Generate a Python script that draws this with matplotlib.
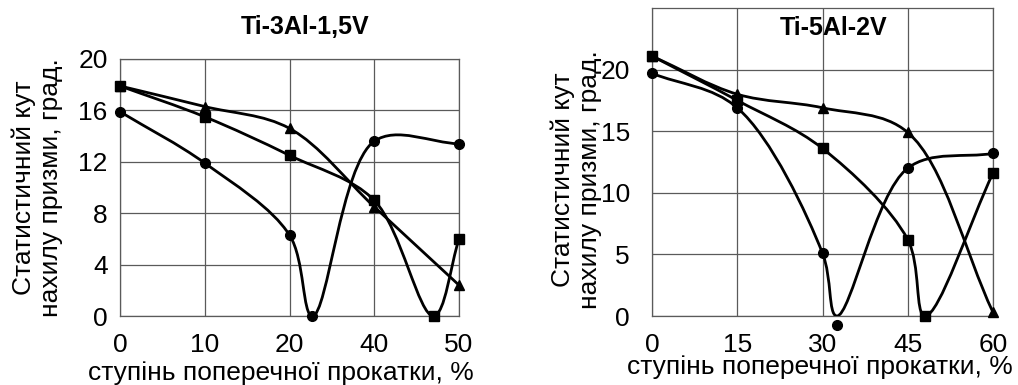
import matplotlib
matplotlib.use("Agg")
import matplotlib.pyplot as plt
import numpy as np
from matplotlib.path import Path
from matplotlib.patches import PathPatch

plt.rcParams["font.family"] = ["Liberation Sans", "DejaVu Sans"]

# Ti-3Al-1,5V: category axis, positions 0..4 -> labels 0,10,20,40,50
left_ticks = [0, 1, 2, 3, 4]
left_ticklabels = ["0", "10", "20", "40", "50"]
left_circle_x = [0, 1, 2, 2.27, 3, 4]
left_circle_y = [15.9, 11.9, 6.3, 0.0, 13.6, 13.4]
left_square_x = [0, 1, 2, 3, 3.7, 4]
left_square_y = [17.9, 15.5, 12.5, 9.0, 0.0, 6.0]
left_tri_x = [0, 1, 2, 3, 4]
left_tri_y = [17.9, 16.3, 14.6, 8.5, 2.4]

# Ti-5Al-2V
right_ticks = [0, 15, 30, 45, 60]
right_circle_x = [0, 15, 30, 32.5, 45, 60]
right_circle_y = [19.7, 16.9, 5.1, -0.7, 12.0, 13.2]
right_square_x = [0, 15, 30, 45, 48, 60]
right_square_y = [21.1, 17.5, 13.6, 6.2, 0.0, 11.6]
right_tri_x = [0, 15, 30, 45, 60]
right_tri_y = [21.1, 18.0, 16.9, 14.9, 0.3]

XLABEL = "ступінь поперечної прокатки, %"
YLABEL = "Статистичний кут\nнахилу призми, град."


def smooth_path(xs, ys, sx, sy):
    """Centripetal Catmull-Rom through the points (in pixel-like space), as Bezier segments."""
    p = np.column_stack([np.asarray(xs, float) * sx, np.asarray(ys, float) * sy])
    p = np.vstack([2 * p[0] - p[1], p, 2 * p[-1] - p[-2]])
    verts = [p[1]]
    codes = [Path.MOVETO]
    for i in range(1, len(p) - 2):
        p0, p1, p2, p3 = p[i - 1], p[i], p[i + 1], p[i + 2]
        d0 = np.linalg.norm(p1 - p0) ** 0.5
        d1 = np.linalg.norm(p2 - p1) ** 0.5
        d2 = np.linalg.norm(p3 - p2) ** 0.5
        m1 = ((p1 - p0) / d0 - (p2 - p0) / (d0 + d1) + (p2 - p1) / d1) * d1
        m2 = ((p2 - p1) / d1 - (p3 - p1) / (d1 + d2) + (p3 - p2) / d2) * d1
        verts += [p1 + m1 / 3, p2 - m2 / 3, p2]
        codes += [Path.CURVE4] * 3
    verts = np.array(verts) / [sx, sy]
    return Path(verts, codes)


def draw_series(ax, xs, ys, marker, ms, sx, sy):
    # the line is cut at the bottom of the plot, the marker is not
    ly = np.maximum(ys, ax.get_ylim()[0])
    ax.add_patch(PathPatch(smooth_path(xs, ly, sx, sy), fill=False, lw=2.0,
                           edgecolor="black", zorder=3))
    ax.plot(xs, ys, ls="none", marker=marker, ms=ms, color="black",
            clip_on=False, zorder=4)


def style_axes(ax, ypad):
    ax.grid(True, color="#5a5a5a", lw=0.9)
    ax.set_axisbelow(True)
    for s in ax.spines.values():
        s.set_color("#5a5a5a")
        s.set_linewidth(0.9)
    ax.tick_params(length=0, labelsize=19)
    ax.tick_params(axis="x", pad=12)
    ax.tick_params(axis="y", pad=ypad)


fig = plt.figure(figsize=(10.18, 3.85), dpi=100)

ax1 = fig.add_axes([120 / 1018, 1 - 316 / 385, 339 / 1018, 257 / 385])
ax1.set_xlim(0, 4)
ax1.set_ylim(0, 20)
s1 = (339 / 4, 257 / 20)
draw_series(ax1, left_circle_x, left_circle_y, "o", 7, *s1)
draw_series(ax1, left_square_x, left_square_y, "s", 6.5, *s1)
draw_series(ax1, left_tri_x, left_tri_y, "^", 7, *s1)
ax1.set_xticks(left_ticks)
ax1.set_xticklabels(left_ticklabels)
ax1.set_yticks([0, 4, 8, 12, 16, 20])
style_axes(ax1, 9)

ax2 = fig.add_axes([652 / 1018, 1 - 316 / 385, 341 / 1018, 308 / 385])
ax2.set_xlim(0, 60)
ax2.set_ylim(0, 25)
s2 = (341 / 60, 308 / 25)
draw_series(ax2, right_circle_x, right_circle_y, "o", 7, *s2)
draw_series(ax2, right_square_x, right_square_y, "s", 6.5, *s2)
draw_series(ax2, right_tri_x, right_tri_y, "^", 7, *s2)
ax2.set_xticks(right_ticks)
ax2.set_yticks([0, 5, 10, 15, 20])
style_axes(ax2, 16)

fig.text(305 / 1018, 1 - 27 / 385, "Ti-3Al-1,5V", ha="center", va="center",
         fontsize=18, fontweight="bold")
fig.text(834 / 1018, 1 - 28 / 385, "Ti-5Al-2V", ha="center", va="center",
         fontsize=18, fontweight="bold")
fig.text(281 / 1018, 1 - 373 / 385, XLABEL, ha="center", va="center", fontsize=19)
fig.text(820 / 1018, 1 - 367 / 385, XLABEL, ha="center", va="center", fontsize=19)
fig.text(37 / 1018, 1 - 188 / 385, YLABEL, ha="center", va="center",
         rotation=90, fontsize=19, linespacing=1.15)
fig.text(576 / 1018, 1 - 180 / 385, YLABEL, ha="center", va="center",
         rotation=90, fontsize=19, linespacing=1.15)

fig.savefig("out.png", dpi=100)
